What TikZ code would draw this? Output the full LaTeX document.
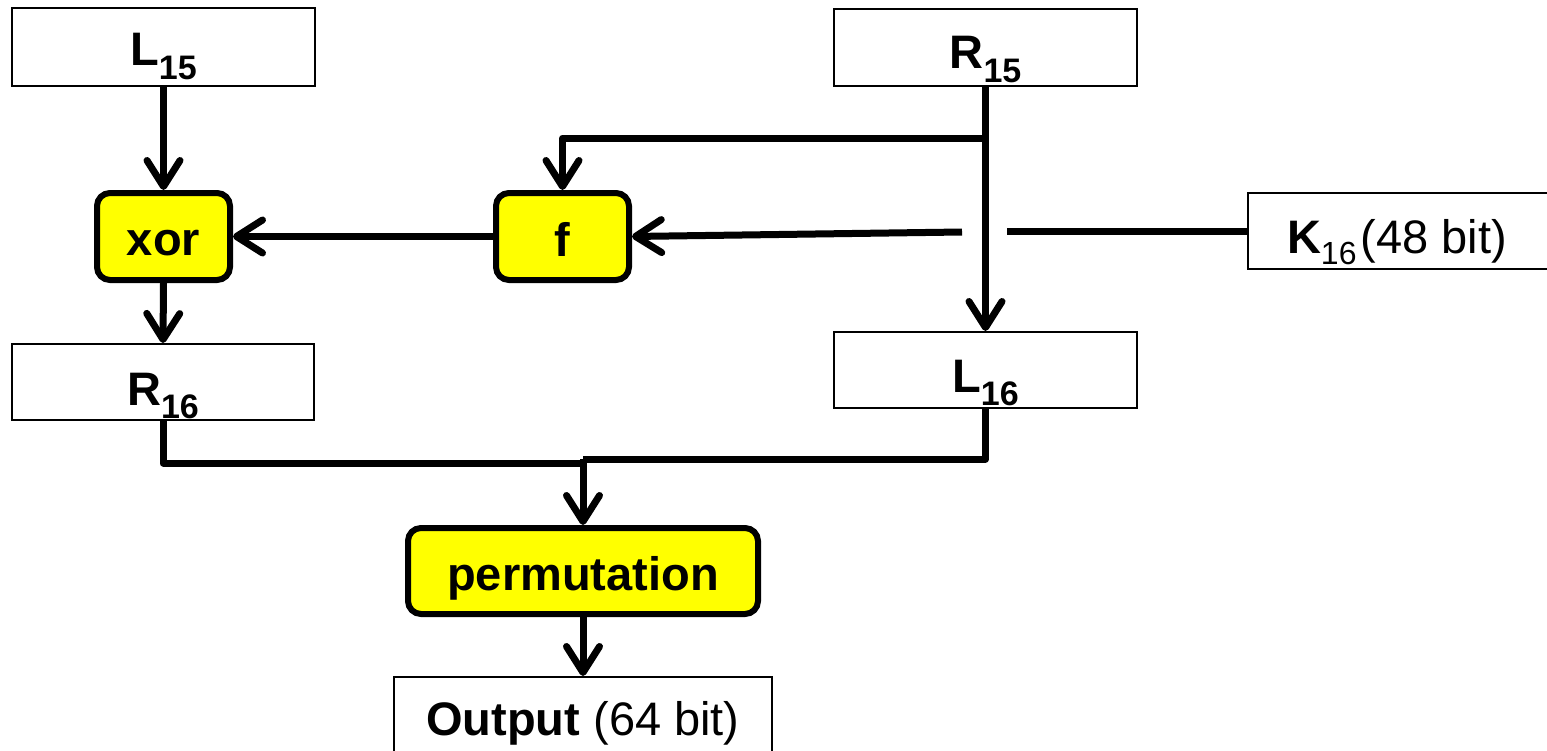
\documentclass[tikz,border=0pt]{standalone}
\usepackage{fontspec}
\setmainfont{Liberation Sans}
\usetikzlibrary{arrows.meta}
\definecolor{boxyellow}{RGB}{255,255,0}
\newcommand{\bigsub}[1]{\raisebox{-13bp}{\fontsize{34bp}{34bp}\selectfont #1}}
\newcommand{\ksub}[1]{\raisebox{-11bp}{\fontsize{32bp}{32bp}\selectfont #1}}
\begin{document}
\begin{tikzpicture}[x=1bp,y=-1bp,
  every node/.style={inner sep=0pt, font=\fontsize{47bp}{56bp}\selectfont},
  plainbox/.style={draw=black, line width=2bp, fill=white, rectangle, font=\fontsize{47bp}{56bp}\selectfont\bfseries},
  yellowbox/.style={draw=black, line width=6bp, fill=boxyellow, rounded corners=13bp, rectangle, font=\fontsize{47bp}{56bp}\selectfont\bfseries},
  conn/.style={line width=7bp, line join=round, line cap=butt},
  arr/.style={conn, -{Straight Barb[length=26bp,width=33bp,round]}},
]
\useasboundingbox (0,0) rectangle (1547,751);

% boxes
\node[plainbox, minimum width=303bp, minimum height=78bp, text height=49bp, text depth=11bp] (L15) at (163.5,47) {L\bigsub{15}};
\node[plainbox, minimum width=303bp, minimum height=77bp, text height=51.5bp, text depth=8.5bp] (R15) at (985.5,47.5) {R\bigsub{15}};
\node[yellowbox, minimum width=133bp, minimum height=87bp, text height=48.5bp, text depth=11.5bp] (xor) at (163.5,236.5) {xor};
\node[yellowbox, minimum width=133bp, minimum height=87bp, text height=49.5bp, text depth=10.5bp] (f) at (562.5,236.5) {f};
\node[plainbox, anchor=west, inner xsep=39bp, minimum height=76bp, text height=52bp, text depth=8bp, font=\fontsize{47bp}{56bp}\selectfont] (K16) at (1247,231) {\makebox[300bp][l]{\textbf{K}\ksub{16}\hspace{4bp}(48 bit)}};
\node[plainbox, minimum width=302bp, minimum height=76bp, text height=53bp, text depth=7bp] (R16) at (163,382) {R\bigsub{16}};
\node[plainbox, minimum width=303bp, minimum height=76bp, text height=52bp, text depth=8bp] (L16) at (985.5,370) {L\bigsub{16}};
\node[yellowbox, minimum width=350bp, minimum height=86bp, text height=49bp, text depth=11bp] (perm) at (583,571) {permutation};
\node[plainbox, minimum width=378bp, minimum height=108bp, text height=34bp, text depth=26bp, font=\fontsize{47bp}{56bp}\selectfont] (out) at (583,731) {\textbf{Output} (64 bit)};

% helper coordinates
\coordinate (br) at (986,138);
\coordinate (k1) at (1007,231);
\coordinate (k2) at (962,232);
\coordinate (m1) at (583,463);
\coordinate (m2) at (583,459);

% connectors
\draw[arr] (L15.south) -- (xor.north);
\draw[arr] (R15.south) -- (R15.south |- L16.north);
\draw[arr] (br) -| (f.north);
\draw[arr] (f.west) -- (xor.east);
\draw[conn] (K16.west) -- (k1);
\draw[arr] (k2) -- (f.east);
\draw[arr] (xor.south) -- (R16.north);
\draw[conn] (R16.south) |- (m1);
\draw[conn] (L16.south) |- (m2);
\draw[arr] (m2) -- (perm.north);
\draw[arr] (perm.south) -- (out.north);
\end{tikzpicture}
\end{document}
